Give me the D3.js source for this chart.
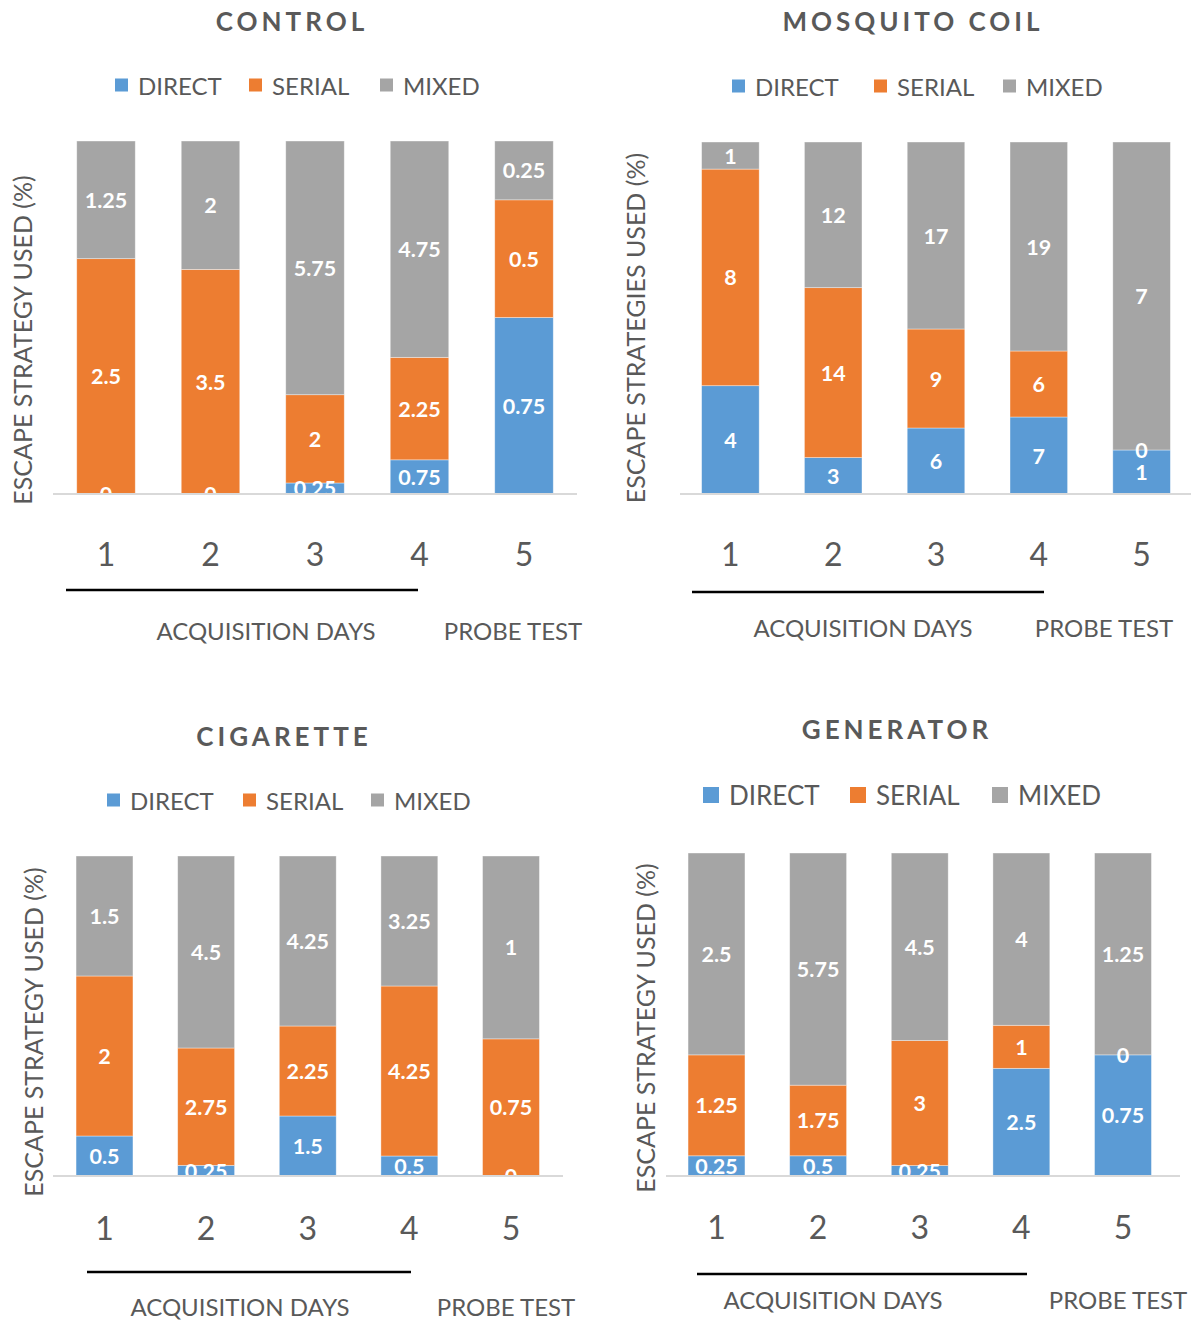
<!DOCTYPE html>
<html>
<head>
<meta charset="utf-8">
<script src="https://cdn.jsdelivr.net/npm/d3@7"></script>
<style>
  body { margin: 0; background: #fff; }
  svg { display: block; font-family: Lato, "Open Sans", sans-serif; }
</style>
</head>
<body>
<svg id="chart" width="1191" height="1320"></svg>
<script>
const days = ['1', '2', '3', '4', '5'];
const strategies = ['DIRECT', 'SERIAL', 'MIXED'];
const colors = ['#5B9BD5', '#ED7D31', '#A5A5A5'];

const controlDirect = [0, 0, 0.25, 0.75, 0.75];
const controlSerial = [2.5, 3.5, 2, 2.25, 0.5];
const controlMixed = [1.25, 2, 5.75, 4.75, 0.25];

const coilDirect = [4, 3, 6, 7, 1];
const coilSerial = [8, 14, 9, 6, 0];
const coilMixed = [1, 12, 17, 19, 7];

const cigDirect = [0.5, 0.25, 1.5, 0.5, 0];
const cigSerial = [2, 2.75, 2.25, 4.25, 0.75];
const cigMixed = [1.5, 4.5, 4.25, 3.25, 1];

const genDirect = [0.25, 0.5, 0.25, 2.5, 0.75];
const genSerial = [1.25, 1.75, 3, 1, 0];
const genMixed = [2.5, 5.75, 4.5, 4, 1.25];

const textColor = '#595959';

// layout of the four panels (positions only)
const panels = [
  {
    title: 'CONTROL', yTitle: 'ESCAPE STRATEGY USED (%)',
    series: [controlDirect, controlSerial, controlMixed],
    titleX: 292, titleY: 31, legendY: 85, legendX: [115, 249, 380], legendFont: 24, sq: 13,
    xRange: [53.75, 576.25], top: 141, bottom: 494, axisX: [53, 577],
    tickY: 566, underline: [66, 418, 590], captionY: 640, acqX: 266, probeX: 513,
    yTitleX: 22, yTitleY: 340
  },
  {
    title: 'MOSQUITO COIL', yTitle: 'ESCAPE STRATEGIES USED (%)',
    series: [coilDirect, coilSerial, coilMixed],
    titleX: 913, titleY: 31, legendY: 86, legendX: [732, 874, 1003], legendFont: 24, sq: 13,
    xRange: [679, 1193], top: 142, bottom: 494, axisX: [680, 1191],
    tickY: 566, underline: [692, 1044, 592], captionY: 637, acqX: 863, probeX: 1104,
    yTitleX: 635, yTitleY: 328
  },
  {
    title: 'CIGARETTE', yTitle: 'ESCAPE STRATEGY USED (%)',
    series: [cigDirect, cigSerial, cigMixed],
    titleX: 284, titleY: 746, legendY: 800, legendX: [107, 243, 371], legendFont: 24, sq: 13,
    xRange: [53.7, 561.8], top: 856, bottom: 1176, axisX: [53, 563],
    tickY: 1240, underline: [87, 411, 1272], captionY: 1316, acqX: 240, probeX: 506,
    yTitleX: 33, yTitleY: 1032
  },
  {
    title: 'GENERATOR', yTitle: 'ESCAPE STRATEGY USED (%)',
    series: [genDirect, genSerial, genMixed],
    titleX: 897, titleY: 739, legendY: 795, legendX: [703, 850, 992], legendFont: 26, sq: 16,
    xRange: [665.7, 1173.8], top: 853, bottom: 1176, axisX: [666, 1180],
    tickY: 1239, underline: [697, 1027, 1274], captionY: 1309, acqX: 833, probeX: 1118,
    yTitleX: 645, yTitleY: 1028
  }
];

const svg = d3.select('#chart');

panels.forEach((p, pi) => {
  const g = svg.append('g').attr('class', 'panel');

  // title
  g.append('text')
    .attr('x', p.titleX)
    .attr('y', p.titleY)
    .attr('text-anchor', 'middle')
    .attr('font-size', 26)
    .attr('font-weight', 'bold')
    .attr('letter-spacing', 4)
    .attr('fill', textColor)
    .text(p.title);

  // legend
  strategies.forEach((s, i) => {
    g.append('rect')
      .attr('x', p.legendX[i])
      .attr('y', p.legendY - p.sq / 2)
      .attr('width', p.sq)
      .attr('height', p.sq)
      .attr('fill', colors[i]);
    g.append('text')
      .attr('x', p.legendX[i] + p.sq + 10)
      .attr('y', p.legendY)
      .attr('dominant-baseline', 'central')
      .attr('font-size', p.legendFont)
      .attr('fill', textColor)
      .text(s);
  });

  // data rows for d3.stack
  const rows = days.map((d, i) => {
    const row = {day: d};
    strategies.forEach((s, k) => { row[s] = p.series[k][i]; });
    return row;
  });
  const stacked = d3.stack()
    .keys(strategies)
    .offset(d3.stackOffsetExpand)(rows);

  const x = d3.scaleBand()
    .domain(days)
    .range(p.xRange)
    .paddingInner(0.44)
    .paddingOuter(0.22);
  const y = d3.scaleLinear()
    .domain([0, 1])
    .range([p.bottom, p.top]);

  // bars
  const layers = g.append('g')
    .selectAll('g')
    .data(stacked)
    .join('g')
    .attr('fill', (d, i) => colors[i]);

  layers.selectAll('rect')
    .data(d => d)
    .join('rect')
    .attr('x', d => x(d.data.day))
    .attr('y', d => y(d[1]))
    .attr('width', x.bandwidth())
    .attr('height', d => y(d[0]) - y(d[1]))
    .attr('stroke', '#ffffff')
    .attr('stroke-opacity', 0.5)
    .attr('stroke-width', 0.75);

  // axis baseline
  g.append('line')
    .attr('x1', p.axisX[0])
    .attr('x2', p.axisX[1])
    .attr('y1', p.bottom)
    .attr('y2', p.bottom)
    .attr('stroke', '#d9d9d9')
    .attr('stroke-width', 2);

  // labels, clipped to plot area
  const clipId = 'clip' + pi;
  g.append('clipPath')
    .attr('id', clipId)
    .append('rect')
    .attr('x', p.axisX[0])
    .attr('y', p.top - 20)
    .attr('width', p.axisX[1] - p.axisX[0])
    .attr('height', p.bottom - p.top + 19);

  const labels = g.append('g').attr('clip-path', 'url(#' + clipId + ')');
  stacked.forEach((layer) => {
    labels.selectAll(null)
      .data(layer)
      .join('text')
      .attr('x', d => x(d.data.day) + x.bandwidth() / 2)
      .attr('y', d => (y(d[0]) + y(d[1])) / 2)
      .attr('text-anchor', 'middle')
      .attr('dominant-baseline', 'central')
      .attr('font-size', 21.5)
      .attr('font-weight', 'bold')
      .attr('fill', '#ffffff')
      .text(d => d.data[layer.key]);
  });

  // day ticks
  const xAxis = d3.axisBottom(x).tickSize(0).tickPadding(0);
  const ax = g.append('g')
    .attr('transform', 'translate(0,' + (p.tickY) + ')')
    .call(xAxis);
  ax.select('.domain').remove();
  ax.selectAll('text')
    .attr('dy', null)
    .attr('y', 0)
    .attr('font-family', 'Lato, "Open Sans", sans-serif')
    .attr('font-size', 32)
    .attr('fill', textColor);

  // acquisition underline
  g.append('line')
    .attr('x1', p.underline[0])
    .attr('x2', p.underline[1])
    .attr('y1', p.underline[2])
    .attr('y2', p.underline[2])
    .attr('stroke', '#000')
    .attr('stroke-width', 2.5);

  g.append('text')
    .attr('x', p.acqX)
    .attr('y', p.captionY)
    .attr('text-anchor', 'middle')
    .attr('font-size', 24)
    .attr('fill', textColor)
    .text('ACQUISITION DAYS');

  g.append('text')
    .attr('x', p.probeX)
    .attr('y', p.captionY)
    .attr('text-anchor', 'middle')
    .attr('font-size', 24)
    .attr('fill', textColor)
    .text('PROBE TEST');

  // y title
  g.append('text')
    .attr('transform', 'translate(' + p.yTitleX + ',' + p.yTitleY + ') rotate(-90)')
    .attr('text-anchor', 'middle')
    .attr('dominant-baseline', 'central')
    .attr('font-size', 25)
    .attr('fill', textColor)
    .text(p.yTitle);
});
</script>
</body>
</html>
